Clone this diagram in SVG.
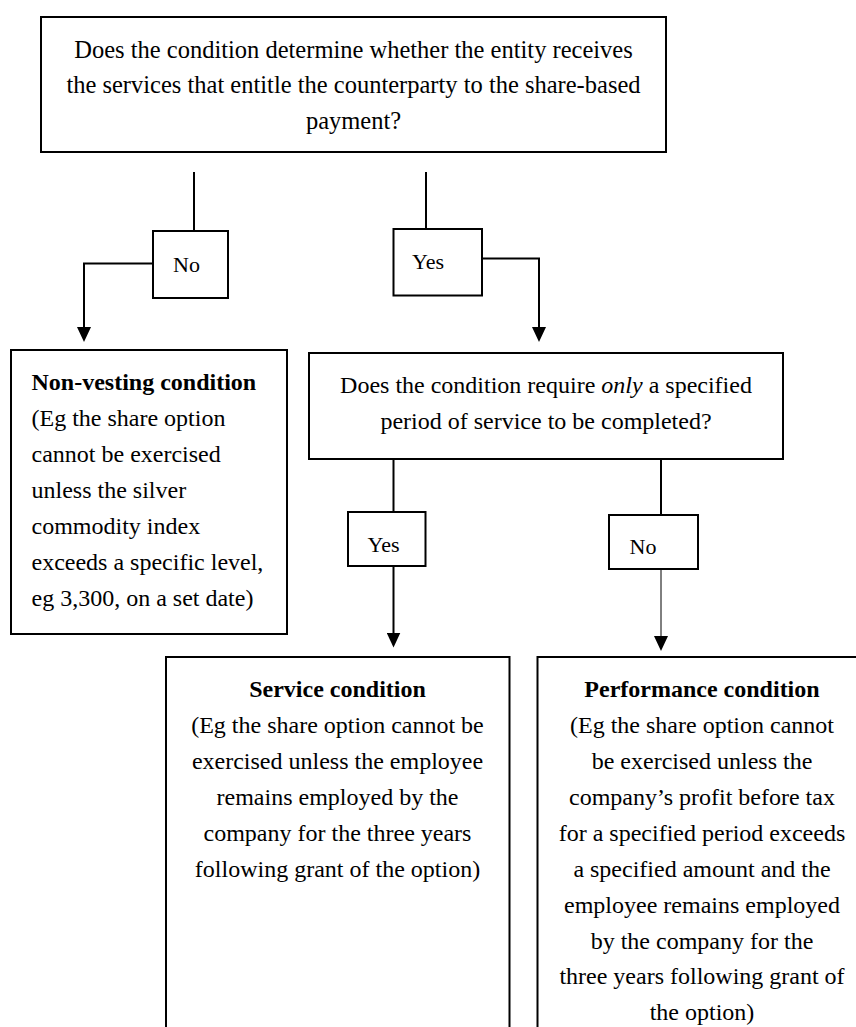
<svg xmlns="http://www.w3.org/2000/svg" width="856" height="1027" viewBox="0 0 856 1027">
<style>
.box{fill:#fff;stroke:#000;stroke-width:2}
.t{font-family:"Liberation Serif","Times New Roman",serif;font-size:24px;fill:#000}
.big{font-size:24.5px}
.c{text-anchor:middle}
.b{font-weight:bold}
.lbl{font-family:"Liberation Serif","Times New Roman",serif;font-size:22px;fill:#000}
.ln{fill:none;stroke:#000;stroke-width:2}
.thin{fill:none;stroke:#000;stroke-width:1}
</style>
<defs>
<marker id="ah" markerUnits="userSpaceOnUse" markerWidth="15" markerHeight="14" viewBox="0 0 15 14" refX="5" refY="7" orient="auto">
<path d="M0,0 L15,7 L0,14 z" fill="#000"/>
</marker>
</defs>
<rect width="856" height="1027" fill="#fff"/>

<g id="connectors">
<line class="ln" x1="194" y1="172" x2="194" y2="231"/>
<path class="ln" d="M153,263.5 H84 V332" marker-end="url(#ah)"/>
<line class="ln" x1="426" y1="172" x2="426" y2="229"/>
<path class="ln" d="M482,258.5 H539 V332" marker-end="url(#ah)"/>
<line class="ln" x1="393.5" y1="459" x2="393.5" y2="512"/>
<path class="ln" d="M393.5,566 V637.5" marker-end="url(#ah)"/>
<line class="ln" x1="661" y1="459" x2="661" y2="515"/>
<path class="thin" d="M661,566 V641" marker-end="url(#ah)"/>
</g>

<g id="q1">
<rect class="box" x="41" y="17" width="625" height="135"/>
<text class="t big c" x="353.5" y="57.5">Does the condition determine whether the entity receives</text>
<text class="t big c" x="353.5" y="93">the services that entitle the counterparty to the share-based</text>
<text class="t big c" x="353.5" y="128.5">payment?</text>
</g>

<g id="no1">
<rect class="box" x="153" y="231" width="75" height="67"/>
<text class="lbl" x="173" y="271.5">No</text>
</g>

<g id="yes1">
<rect class="box" x="393.5" y="229" width="88.5" height="66.5"/>
<text class="lbl" x="412" y="268.5">Yes</text>
</g>

<g id="nonvesting">
<rect class="box" x="11" y="350" width="276" height="284"/>
<text class="t b" x="31.5" y="390">Non-vesting condition</text>
<text class="t" x="31.5" y="426">(Eg the share option</text>
<text class="t" x="31.5" y="462">cannot be exercised</text>
<text class="t" x="31.5" y="498">unless the silver</text>
<text class="t" x="31.5" y="534">commodity index</text>
<text class="t" x="31.5" y="570">exceeds a specific level,</text>
<text class="t" x="31.5" y="606">eg 3,300, on a set date)</text>
</g>

<g id="q2">
<rect class="box" x="309" y="353" width="474" height="106"/>
<text class="t c" x="546" y="393">Does the condition require <tspan font-style="italic">only</tspan> a specified</text>
<text class="t c" x="546" y="428.5">period of service to be completed?</text>
</g>

<g id="yes2">
<rect class="box" x="348" y="512" width="77.5" height="54"/>
<text class="lbl" x="367.5" y="551.5">Yes</text>
</g>

<g id="no2">
<rect class="box" x="609" y="515" width="89" height="54"/>
<text class="lbl" x="629.5" y="553.5">No</text>
</g>

<g id="service">
<rect class="box" x="166" y="657" width="343.5" height="400"/>
<text class="t c b" x="337.5" y="697">Service condition</text>
<text class="t c" x="337.5" y="733">(Eg the share option cannot be</text>
<text class="t c" x="337.5" y="769">exercised unless the employee</text>
<text class="t c" x="337.5" y="805">remains employed by the</text>
<text class="t c" x="337.5" y="841">company for the three years</text>
<text class="t c" x="337.5" y="877">following grant of the option)</text>
</g>

<g id="performance">
<rect class="box" x="537.5" y="657" width="330" height="400"/>
<text class="t c b" x="702" y="697">Performance condition</text>
<text class="t c" x="702" y="733">(Eg the share option cannot</text>
<text class="t c" x="702" y="769">be exercised unless the</text>
<text class="t c" x="702" y="805">company’s profit before tax</text>
<text class="t c" x="702" y="840.5">for a specified period exceeds</text>
<text class="t c" x="702" y="876.5">a specified amount and the</text>
<text class="t c" x="702" y="912.5">employee remains employed</text>
<text class="t c" x="702" y="948.5">by the company for the</text>
<text class="t c" x="702" y="984">three years following grant of</text>
<text class="t c" x="702" y="1020">the option)</text>
</g>
</svg>
